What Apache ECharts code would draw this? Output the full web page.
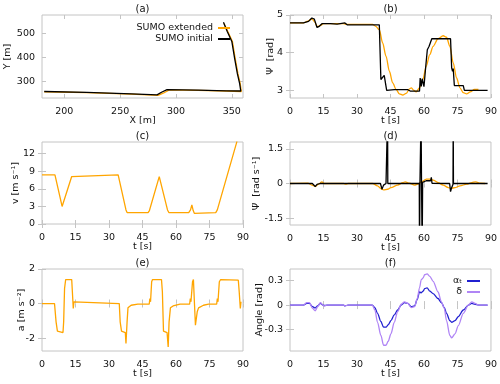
<!DOCTYPE html>
<html>
<head>
<meta charset="utf-8">
<script src="https://cdn.jsdelivr.net/npm/echarts@6/dist/echarts.min.js"></script>
<style>
html, body { margin: 0; padding: 0; background: #fff; }
#main { width: 500px; height: 384px; }
</style>
</head>
<body>
<div id="main"></div>
<script>
// (a) trajectory, X / Y in m
var trajInitX = [182, 220, 260, 283, 287, 292, 320, 345, 358, 357, 355, 352.5, 350, 346, 342.5];
var trajInitY = [257, 253, 247, 243, 254, 265, 263, 260, 259, 290, 330, 395, 465, 505, 545];
var trajExtX = [182, 220, 260, 284, 289, 294, 320, 345, 358.5, 357.5, 355.5, 353, 350.5, 346.5, 343];
var trajExtY = [256, 252, 246, 241, 251, 264, 262, 259, 257, 290, 330, 395, 465, 505, 540];

// (b) heading Psi [rad]
var tHeadInit = [0, 6, 8.3, 9.8, 10.9, 12.1, 13.1, 14.3, 18.1, 21.1, 24.6, 25.6, 38.7, 40, 40.7, 41.4, 42.2, 43, 43.3, 46.7,
  52.8, 54, 58, 58.3, 58.8, 59.2, 60, 60.8, 61.5, 62.3, 63.5, 71.9, 72.4, 72.8, 73.1, 73.6, 77.6, 78.1, 88.5];
var headInit = [4.79, 4.79, 4.83, 4.92, 4.89, 4.67, 4.70, 4.77, 4.77, 4.76, 4.79, 4.74, 4.74, 4.74, 3.29, 3.33, 3.40, 3.11, 3.00, 3.02,
  3.02, 2.98, 2.98, 3.33, 3.11, 3.31, 3.10, 3.64, 4.08, 4.17, 4.37, 4.37, 3.60, 3.51, 3.58, 3.13, 3.13, 3.00, 3.00];
var tHeadExt = [0, 6, 8, 9.8, 11, 12.2, 13.5, 15, 18, 24, 25.5, 37, 38.4, 40, 41.5, 43, 44.5, 46, 47.5, 49,
  50.5, 52, 53.5, 54.3, 55.3, 56.5, 58, 59.5, 61, 62.6, 64.1, 66.3, 68.6, 70.1, 71.6, 73.1, 74.6, 76.1, 77.6, 79.1,
  80.7, 82.6, 84.4];
var headExt = [4.79, 4.79, 4.84, 4.90, 4.82, 4.69, 4.72, 4.77, 4.77, 4.77, 4.75, 4.75, 4.70, 4.61, 4.26, 3.91, 3.51, 3.20, 3.03, 2.91,
  2.88, 2.92, 3.04, 3.07, 3.01, 2.96, 3.07, 3.29, 3.64, 3.95, 4.17, 4.37, 4.45, 4.41, 4.17, 3.73, 3.33, 3.07, 2.94, 2.91,
  2.96, 3.03, 3.03];

// (c) speed v [m/s]
var tVel = [0, 5.8, 6.3, 9.0, 9.2, 9.7, 13.3, 13.9, 34.1, 34.6, 37.6, 38.1, 38.6, 47.5, 48.1, 52.5, 52.9, 53.3, 56.2, 56.8,
  57.4, 65.7, 66.5, 67.1, 67.7, 68.2, 77.8, 78.5, 87.3];
var vel = [8.4, 8.4, 8.1, 3.0, 2.7, 3.0, 8.1, 8.4, 8.4, 8.1, 2.4, 1.95, 1.83, 1.94, 2.3, 8.1, 8.4, 8.0, 2.4, 1.95,
  1.83, 1.94, 2.4, 3.26, 2.3, 1.83, 1.94, 2.4, 14.1];

// (d) yaw rate [rad/s]
var tRateInit = [0, 10, 11.3, 12.1, 12.8, 13.5, 24.6, 25.3, 26, 40.5, 41.2, 41.6, 41.9, 43, 43.6, 43.7, 43.8, 57.9, 58.0, 58.2,
  58.6, 58.7, 58.9, 59.1, 59.2, 59.4, 61, 61.8, 63, 63.3, 63.6, 71.5, 71.9, 72.4, 73.0, 73.1, 73.2, 88.5];
var rateInit = [0, 0, -0.13, -0.04, 0.03, 0, 0, -0.07, 0, 0, -0.25, -0.18, -0.07, 0, 0, 3, 0, 0, -3, 0,
  0, 3, 0.05, 0.05, -3, 0.05, 0.12, 0.04, 0.12, 0.27, 0.01, 0, -0.35, -0.18, -0.03, 3, 0, 0];
var tRateExt = [0, 8, 9.8, 11.3, 12.8, 14.3, 15.4, 24, 25, 26, 37, 39.2, 40.7, 41.9, 43.7, 45.2, 48.2, 50.5, 51.6, 53.5,
  55.8, 57.3, 58.8, 61.1, 62.6, 64.1, 66.3, 68.6, 70.9, 72.1, 73.9, 76.1, 79.2, 81.4, 83.2, 85.2, 87.4];
var rateExt = [0, 0.02, -0.07, -0.13, -0.03, 0.07, 0, 0, -0.03, 0, 0, -0.1, -0.22, -0.28, -0.25, -0.18, -0.07, 0.04, 0.07, 0.01,
  -0.07, -0.03, 0.07, 0.19, 0.19, 0.15, 0.04, -0.07, -0.18, -0.21, -0.18, -0.1, -0.03, 0.04, 0.07, 0.01, 0];

// (e) acceleration [m/s2]
var tAcc = [0, 5.6, 6.3, 6.9, 7.7, 9.4, 9.7, 10.1, 10.6, 13.3, 13.6, 14.0, 14.3, 15.1, 34.6, 35.0, 35.6, 37.3, 37.6, 38.1,
  38.5, 39.9, 42.9, 48.0, 48.3, 48.6, 49.1, 49.5, 53.5, 53.9, 54.4, 54.8, 56.0, 56.5, 56.9, 57.5, 58.7, 61.8, 66.1, 66.4,
  66.7, 67.4, 67.8, 68.3, 68.7, 69.0, 69.5, 70.1, 72.3, 74.6, 78.2, 78.5, 78.8, 79.4, 80.0, 87.9, 88.3, 88.8, 89.1];
var acc = [0, 0, -1.06, -1.6, -1.68, -1.68, -1.06, 0.87, 1.39, 1.39, 0.68, -0.29, 0.1, 0, 0, -1.06, -1.6, -1.68, -2.32, -1.06,
  -0.25, -0.1, -0.04, -0.04, 0.29, 0.1, 1.26, 1.39, 1.39, 0.68, -1.6, -1.68, -1.68, -2.51, -1.06, -0.25, -0.14, -0.04, -0.04, 0.29,
  0.1, 1.26, 1.39, -0.1, -1.26, -1.35, -0.48, -0.25, -0.1, -0.04, -0.04, 0.29, 0.1, 1.26, 1.39, 1.35, 0.68, -0.29, 0.1];

// (f) angles [rad]
var tAng = [0, 6, 7.5, 8.7, 10.1, 11.3, 12.4, 13.6, 14.8, 15.4, 16.6, 24, 24.6, 26, 36.9, 38, 39.2, 40.7, 41.9, 43,
  44, 45.2, 46.7, 48.2, 49.8, 51.3, 52.8, 54.3, 55.8, 57, 58, 58.8, 59.6, 60.3, 61.4, 62.6, 64.1, 66.3, 67.8, 69.1,
  70.1, 71.6, 72.4, 73.9, 75.4, 77.6, 79.9, 81.4, 82.9, 84.4, 88.5];
var alphaT = [0, 0, 0.02, 0.02, -0.02, -0.035, -0.01, 0.02, 0, -0.005, 0, 0, -0.01, 0, 0, -0.03, -0.1, -0.2, -0.27, -0.27,
  -0.24, -0.19, -0.12, -0.06, 0, 0.03, 0.02, -0.02, -0.01, 0.07, 0.16, 0.15, 0.17, 0.2, 0.21, 0.17, 0.14, 0.08, 0.03, -0.03,
  -0.1, -0.19, -0.21, -0.19, -0.14, -0.06, 0, 0.02, 0.01, 0, 0];
var delta = [0, 0, 0.03, 0.03, -0.04, -0.07, -0.02, 0.03, 0, -0.01, 0, 0, -0.01, 0, 0, -0.06, -0.21, -0.37, -0.49, -0.49,
  -0.44, -0.35, -0.21, -0.08, 0.01, 0.04, 0.02, -0.03, -0.02, 0.08, 0.21, 0.31, 0.33, 0.37, 0.38, 0.35, 0.29, 0.16, 0.04, -0.04,
  -0.19, -0.37, -0.40, -0.35, -0.25, -0.10, 0, 0.04, 0.02, 0, 0];

// tick labels
var xTicksA = [200, 250, 300, 350];
var yTicksA = [300, 400, 500];
var tTicks = [0, 15, 30, 45, 60, 75, 90];
var yTicksB = [3, 4, 5];
var yTicksC = [0, 3, 6, 9, 12];
var yTicksD = [-1.5, 0, 1.5];
var yTicksE = [-2, 0, 2];
var yTicksF = [-0.3, 0, 0.3];

var font = 'DejaVu Sans';
var frameColor = '#c4c4c4';
var textColor = '#111';
var orange = '#ffa500';
var blue = '#2020d0';
var purple = '#b085f5';

var panels = [
  {title: '(a)', left: 42, top: 15, width: 201, height: 83, x: [180, 360], xTicks: xTicksA, xName: 'X [m]',
    y: [230, 575], yTicks: yTicksA, yName: 'Y [m]', yGap: 29},
  {title: '(b)', left: 290, top: 15, width: 201, height: 83, x: [0, 90], xTicks: tTicks, xName: 't [s]',
    y: [2.8, 5], yTicks: yTicksB, yName: 'Ψ  [rad]', yGap: 14},
  {title: '(c)', left: 42, top: 142, width: 201, height: 82, x: [0, 90], xTicks: tTicks, xName: 't [s]',
    y: [0, 14], yTicks: yTicksC, yName: 'v [m s⁻¹]', yGap: 21},
  {title: '(d)', left: 290, top: 142, width: 201, height: 83, x: [0, 90], xTicks: tTicks, xName: 't [s]',
    y: [-1.8, 1.8], yTicks: yTicksD, yName: 'Ψ̇  [rad s⁻¹]', yGap: 28},
  {title: '(e)', left: 42, top: 269, width: 201, height: 82, x: [0, 90], xTicks: tTicks, xName: 't [s]',
    y: [-2.75, 2], yTicks: yTicksE, yName: 'a [m s⁻²]', yGap: 15},
  {title: '(f)', left: 290, top: 269, width: 201, height: 82, x: [0, 90], xTicks: tTicks, xName: 't [s]',
    y: [-0.56, 0.44], yTicks: yTicksF, yName: 'Angle [rad]', yGap: 25}
];

function pairs(xs, ys) {
  return xs.map(function (x, i) { return [x, ys[i]]; });
}

function makeAxis(isX, gi, range, ticks, mirror, name, gap) {
  return {
    type: 'value',
    gridIndex: gi,
    min: range[0],
    max: range[1],
    position: isX ? (mirror ? 'top' : 'bottom') : (mirror ? 'right' : 'left'),
    axisLine: {show: false},
    axisTick: {show: true, inside: true, length: 4, customValues: ticks, lineStyle: {color: frameColor}},
    axisLabel: {show: !mirror, customValues: ticks, margin: isX ? 9 : 7, color: textColor, fontSize: 9.5, fontFamily: font},
    splitLine: {show: false},
    name: mirror ? '' : name,
    nameLocation: 'middle',
    nameGap: gap,
    nameMoveOverlap: false,
    nameTextStyle: {color: textColor, fontSize: 9.5, fontFamily: font}
  };
}

var grids = [], xAxes = [], yAxes = [], titles = [];
panels.forEach(function (p, i) {
  grids.push({left: p.left, top: p.top, width: p.width, height: p.height, show: true,
    borderColor: frameColor, borderWidth: 1, containLabel: false});
  titles.push({text: p.title, left: p.left + p.width / 2, top: p.top - 11, textAlign: 'center', padding: 0,
    textStyle: {fontSize: 10, fontWeight: 'normal', color: textColor, fontFamily: font}});
  xAxes.push(makeAxis(true, i, p.x, p.xTicks, false, p.xName, 18));
  yAxes.push(makeAxis(false, i, p.y, p.yTicks, false, p.yName, p.yGap));
});
// mirrored ticks on top and right
panels.forEach(function (p, i) {
  xAxes.push(makeAxis(true, i, p.x, p.xTicks, true, '', 0));
  yAxes.push(makeAxis(false, i, p.y, p.yTicks, true, '', 0));
});

function line(gi, name, color, data, smooth) {
  return {
    type: 'line', name: name, xAxisIndex: gi, yAxisIndex: gi, data: data,
    color: color, showSymbol: false, symbol: 'none',
    smooth: smooth || false, smoothMonotone: 'x',
    lineStyle: {width: 1.3, color: color}
  };
}

var legendText = {fontSize: 9.5, fontFamily: font, color: textColor};

var chart = echarts.init(document.getElementById('main'));
chart.setOption({
  animation: false,
  backgroundColor: '#fff',
  title: titles,
  grid: grids,
  xAxis: xAxes,
  yAxis: yAxes,
  legend: [
    {data: ['SUMO extended', 'SUMO initial'], orient: 'vertical', right: 270, top: 23, align: 'right',
      icon: 'rect', itemWidth: 12, itemHeight: 2, itemGap: 1, padding: 0, selectedMode: false, textStyle: legendText},
    {data: ['αₜ', 'δ'], orient: 'vertical', right: 20, top: 276, align: 'right',
      icon: 'rect', itemWidth: 13, itemHeight: 2, itemGap: 1, padding: 0, selectedMode: false, textStyle: legendText}
  ],
  series: [
    line(0, 'SUMO extended', orange, pairs(trajExtX, trajExtY)),
    line(0, 'SUMO initial', '#000', pairs(trajInitX, trajInitY)),
    line(1, 'SUMO extended', orange, pairs(tHeadExt, headExt), 0.3),
    line(1, 'SUMO initial', '#000', pairs(tHeadInit, headInit)),
    line(2, 'SUMO extended', orange, pairs(tVel, vel)),
    line(3, 'SUMO extended', orange, pairs(tRateExt, rateExt), 0.3),
    line(3, 'SUMO initial', '#000', pairs(tRateInit, rateInit)),
    line(4, 'SUMO extended', orange, pairs(tAcc, acc)),
    line(5, 'αₜ', blue, pairs(tAng, alphaT), 0.3),
    line(5, 'δ', purple, pairs(tAng, delta), 0.3)
  ]
});
</script>
</body>
</html>
